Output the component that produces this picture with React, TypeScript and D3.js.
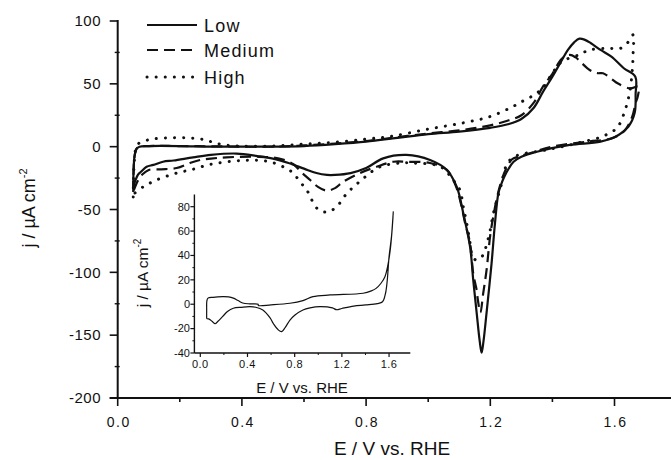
import React from 'react';
import * as d3 from 'd3';

const W = 671;
const H = 460;
const FONT = '"Liberation Sans", Arial, Helvetica, sans-serif';

// ---- Main chart data (E / V vs. RHE, j / µA cm^-2), full CV loops ----
const lowPotential = [
  0.05, 0.051, 0.054, 0.06, 0.07, 0.1, 0.2, 0.3, 0.4, 0.5, 0.6, 0.7, 0.8, 0.9, 1.0, 1.1, 1.2, 1.26, 1.3, 1.34,
  1.37, 1.4, 1.425, 1.45, 1.47, 1.487, 1.505, 1.523, 1.555, 1.59, 1.63, 1.667,
  1.668, 1.665, 1.645, 1.613, 1.555, 1.456, 1.35, 1.3, 1.275, 1.258, 1.245, 1.235, 1.226, 1.215, 1.204, 1.188,
  1.178, 1.172, 1.166, 1.156, 1.145, 1.135, 1.113, 1.092, 1.06, 1.006, 0.93, 0.855, 0.8, 0.75, 0.7, 0.674, 0.64,
  0.6, 0.55, 0.5, 0.45, 0.383, 0.3, 0.243, 0.18, 0.146, 0.115, 0.093, 0.075, 0.065, 0.05,
];
const lowCurrent = [
  -32, -20, -8, -2, 0, 0.5, 0.5, 0, 0, 0, 0.5, 2, 4, 7, 10, 12, 15, 18, 22, 31,
  43.8, 55.7, 66.5, 77, 83, 86, 85, 82.5, 77, 71.6, 62.4, 55.7,
  42, 27, 16, 9.3, 4, 1.4, -4, -8, -12, -18, -24, -30, -37, -61, -93, -132,
  -155, -164, -155, -132, -106, -80, -53, -32, -18.5, -10.6, -6.6, -9.3, -17, -21, -22.5, -22.5, -21,
  -17.5, -13, -9.5, -7.5, -5.5, -6.5, -8.5, -11, -12, -14.5, -16, -20, -22.5, -32,
];

const mediumPotential = [
  0.05, 0.051, 0.054, 0.06, 0.07, 0.1, 0.2, 0.3, 0.4, 0.5, 0.6, 0.7, 0.8, 0.9, 1.0, 1.1, 1.2, 1.26, 1.3, 1.34,
  1.37, 1.4, 1.43, 1.456, 1.475, 1.49, 1.52, 1.545, 1.563, 1.59, 1.61, 1.65, 1.677,
  1.675, 1.668, 1.657, 1.634, 1.595, 1.51, 1.4, 1.33, 1.29, 1.27, 1.25, 1.235, 1.222, 1.21, 1.2, 1.188, 1.177,
  1.168, 1.16, 1.156, 1.145, 1.135, 1.119, 1.105, 1.09, 1.06, 1.006, 0.93, 0.888, 0.834, 0.78, 0.726, 0.7, 0.673,
  0.645, 0.62, 0.59, 0.566, 0.52, 0.45, 0.35, 0.3, 0.265, 0.233, 0.19, 0.14, 0.1, 0.08, 0.065, 0.05,
];
const mediumCurrent = [
  -36, -22, -8, -2, 0, 0.5, 0.5, 0.3, 0, 0, 1, 2.5, 4.5, 7.5, 10.5, 13, 17, 21, 25, 35,
  48, 58, 70, 73, 71, 67.6, 61, 58.5, 58.4, 54, 50.4, 46.4, 47.7,
  40, 34.7, 23.9, 13.3, 6.9, 4, 0, -5, -8, -10, -18, -28, -40, -55, -70, -98, -117,
  -132, -122, -114, -101, -77, -61, -45, -32, -18.5, -13, -12, -12, -16, -21, -28, -33, -35,
  -32, -26.5, -20, -14, -9.5, -8, -8.5, -9.5, -10.6, -13, -17, -18, -18.5, -22, -27, -36,
];

const highPotential = [
  0.05, 0.051, 0.054, 0.058, 0.065, 0.08, 0.11, 0.16, 0.22, 0.27, 0.3, 0.34, 0.4, 0.5, 0.6, 0.7, 0.8, 0.887,
  1.0, 1.11, 1.2, 1.27, 1.31, 1.34, 1.37, 1.4, 1.43, 1.484, 1.52, 1.576, 1.62, 1.645, 1.66,
  1.66, 1.658, 1.65, 1.634, 1.608, 1.56, 1.5, 1.45, 1.38, 1.3, 1.27, 1.25, 1.237, 1.222, 1.21, 1.2, 1.188, 1.177,
  1.165, 1.152, 1.142, 1.135, 1.124, 1.113, 1.102, 1.08, 1.04, 0.952, 0.909, 0.845, 0.812, 0.786, 0.759, 0.732,
  0.71, 0.678, 0.646, 0.625, 0.609, 0.587, 0.565, 0.533, 0.48, 0.4, 0.3, 0.243, 0.19, 0.125, 0.082, 0.05,
];
const highCurrent = [
  -40, -24, -10, -2, 2, 4, 6, 7, 7, 6, 4, 1.5, 0.5, 0.5, 2, 3.5, 6, 8.5,
  14, 18.8, 24, 31.6, 37, 41, 47, 58.6, 67.6, 73, 77, 78.3, 78.3, 83.5, 89,
  74.5, 63.6, 45, 29, 15, 8, 4, 1, -2.6, -6, -9, -16, -29, -42, -53, -66, -78, -86,
  -89.5, -90, -87, -77, -61, -48, -34.5, -26.5, -16, -13, -13, -16, -21, -26.5, -32, -39,
  -46.4, -52, -50, -42.4, -34.5, -28, -21, -16, -11.5, -11, -14, -18, -21, -26.5, -32, -38,
];

// ---- Inset data ----
const insetPotential = [
  0.054, 0.054, 0.056, 0.065, 0.108, 0.19, 0.24, 0.28, 0.32, 0.36, 0.42, 0.49, 0.492, 0.6, 0.76, 0.87, 0.955,
  1.1, 1.38, 1.45, 1.49, 1.53, 1.565, 1.59, 1.61, 1.625, 1.636,
  1.62, 1.6, 1.585, 1.57, 1.545, 1.5, 1.4, 1.3, 1.2, 1.155, 1.12, 1.015, 0.93, 0.87, 0.8, 0.76, 0.72, 0.69,
  0.66, 0.62, 0.59, 0.53, 0.47, 0.42, 0.35, 0.28, 0.23, 0.19, 0.15, 0.125, 0.1, 0.07, 0.055,
];
const insetCurrent = [
  -12, -5, 3, 5, 5.7, 6.2, 6, 5, 3, 1, 0.3, 0, -1, -0.5, 0.8, 3, 6.2,
  7.6, 9, 11, 13, 17, 22.6, 32, 44.5, 60, 76,
  55, 39, 20, 9, 2, 0.5, -0.6, -1.5, -3.5, -4.5, -3, -2, -3, -4.7, -9, -13, -19, -22.5,
  -21, -16, -11, -4.7, -2.5, -2, -2.5, -3.3, -6, -10, -14, -16, -14, -12, -12,
];

// ---- Ticks & labels ----
const mainXTicks = [0, 0.4, 0.8, 1.2, 1.6];
const mainXMinor = [0.2, 0.6, 1.0, 1.4];
const mainYTicks = [-200, -150, -100, -50, 0, 50, 100];
const mainYMinor = [-175, -125, -75, -25, 25, 75];
const insetXTicks = [0, 0.4, 0.8, 1.2, 1.6];
const insetXMinor = [0.2, 0.6, 1.0, 1.4];
const insetYTicks = [-40, -20, 0, 20, 40, 60, 80];
const insetYMinor = [-30, -10, 10, 30, 50, 70];
const legendLabels = ['Low', 'Medium', 'High'];

const zip = (a: number[], b: number[]) => a.map((v, i) => [v, b[i]] as [number, number]);

const INK = '#111';

const styles = [
  { strokeWidth: 2.2, dash: undefined as string | undefined, cap: 'butt' },
  { strokeWidth: 2.2, dash: '11 6', cap: 'butt' },
  { strokeWidth: 3, dash: '0.1 9', cap: 'round' },
];

export default function App() {
  const x = d3.scaleLinear().domain([0, 1.78]).range([117.7, 670.4]);
  const y = d3.scaleLinear().domain([-200, 100]).range([398, 21]);
  const ix = d3.scaleLinear().domain([-0.05, 1.78]).range([194.4, 410.3]);
  const iy = d3.scaleLinear().domain([-40, 90]).range([353, 194.5]);

  const line = d3
    .line<[number, number]>()
    .x((d) => x(d[0]))
    .y((d) => y(d[1]))
    .curve(d3.curveCatmullRom.alpha(0.5));
  const iline = d3
    .line<[number, number]>()
    .x((d) => ix(d[0]))
    .y((d) => iy(d[1]))
    .curve(d3.curveCatmullRom.alpha(0.5));

  const series = [
    zip(lowPotential, lowCurrent),
    zip(mediumPotential, mediumCurrent),
    zip(highPotential, highCurrent),
  ];
  const fmt = d3.format('.1f');

  return (
    <svg
      width={W}
      height={H}
      style={{ position: 'absolute', left: 0, top: 0, background: '#fff' }}
      fontFamily={FONT}
    >
      <rect x={0} y={0} width={W} height={H} fill="#fff" />

      {/* Main axes */}
      <line x1={x(0)} x2={x(0)} y1={y(100) - 1} y2={y(-200)} stroke={INK} strokeWidth={2} />
      <line x1={x(0) - 8} x2={W} y1={y(-200)} y2={y(-200)} stroke={INK} strokeWidth={2} />
      {mainYTicks.map((t) => (
        <g key={'my' + t}>
          <line x1={x(0) - 8} x2={x(0)} y1={y(t)} y2={y(t)} stroke={INK} strokeWidth={1.6} />
          <text x={101} y={y(t)} dy="0.35em" textAnchor="end" fontSize={15} letterSpacing={0.5} fill={INK}>
            {t}
          </text>
        </g>
      ))}
      {mainYMinor.map((t) => (
        <line key={'mym' + t} x1={x(0) - 3} x2={x(0) + 2} y1={y(t)} y2={y(t)} stroke={INK} strokeWidth={1.4} />
      ))}
      {mainXTicks.map((t) => (
        <g key={'mx' + t}>
          <line x1={x(t)} x2={x(t)} y1={y(-200)} y2={y(-200) + 8} stroke={INK} strokeWidth={1.6} />
          <text x={x(t) + 1} y={427} textAnchor="middle" fontSize={14} letterSpacing={1.5} fill={INK}>
            {fmt(t)}
          </text>
        </g>
      ))}
      {mainXMinor.map((t) => (
        <line key={'mxm' + t} x1={x(t)} x2={x(t)} y1={y(-200)} y2={y(-200) + 4} stroke={INK} strokeWidth={1.6} />
      ))}

      {/* Axis titles */}
      <text x={392} y={455} textAnchor="middle" fontSize={19} fill={INK}>
        E / V vs. RHE
      </text>
      <text transform="translate(35,208) rotate(-90)" textAnchor="middle" fontSize={18} fill={INK}>
        j / µA cm
        <tspan dy={-8} fontSize={11}>
          -2
        </tspan>
      </text>

      {/* Curves */}
      {series.map((s, i) => (
        <path
          key={'s' + i}
          d={line(s) || ''}
          fill="none"
          stroke={INK}
          strokeWidth={styles[i].strokeWidth}
          strokeDasharray={styles[i].dash}
          strokeLinecap={styles[i].cap as any}
          strokeLinejoin="round"
        />
      ))}

      {/* Legend */}
      {legendLabels.map((lab, i) => {
        const ly = [25, 50, 77][i];
        return (
          <g key={'lg' + i}>
            <line
              x1={147}
              x2={197}
              y1={ly}
              y2={ly}
              stroke={INK}
              strokeWidth={styles[i].strokeWidth}
              strokeDasharray={styles[i].dash}
              strokeLinecap={styles[i].cap as any}
            />
            <text x={204} y={ly + 7} fontSize={18} letterSpacing={1.2} fill={INK}>
              {lab}
            </text>
          </g>
        );
      })}

      {/* Inset axes */}
      <line x1={ix(-0.05)} x2={ix(-0.05)} y1={iy(90)} y2={iy(-40)} stroke={INK} strokeWidth={1.4} />
      <line x1={ix(-0.05)} x2={ix(1.78)} y1={iy(-40)} y2={iy(-40)} stroke={INK} strokeWidth={1.4} />
      {insetYTicks.map((t) => (
        <g key={'iy' + t}>
          <line x1={ix(-0.05) - 4} x2={ix(-0.05)} y1={iy(t)} y2={iy(t)} stroke={INK} strokeWidth={1.2} />
          <text x={190} y={iy(t)} dy="0.35em" textAnchor="end" fontSize={11} fill={INK}>
            {t}
          </text>
        </g>
      ))}
      {insetYMinor.map((t) => (
        <line key={'iym' + t} x1={ix(-0.05) - 2} x2={ix(-0.05)} y1={iy(t)} y2={iy(t)} stroke={INK} strokeWidth={1} />
      ))}
      {insetXTicks.map((t) => (
        <g key={'ix' + t}>
          <line x1={ix(t)} x2={ix(t)} y1={iy(-40)} y2={iy(-40) + 4} stroke={INK} strokeWidth={1.2} />
          <text x={ix(t)} y={367.5} textAnchor="middle" fontSize={11} letterSpacing={0.5} fill={INK}>
            {fmt(t)}
          </text>
        </g>
      ))}
      {insetXMinor.map((t) => (
        <line key={'ixm' + t} x1={ix(t)} x2={ix(t)} y1={iy(-40)} y2={iy(-40) + 2} stroke={INK} strokeWidth={1} />
      ))}
      <text x={302} y={393} textAnchor="middle" fontSize={15} fill={INK}>
        E / V vs. RHE
      </text>
      <text transform="translate(148,273) rotate(-90)" textAnchor="middle" fontSize={15.5} fill={INK}>
        j / µA cm
        <tspan dy={-7} fontSize={10}>
          -2
        </tspan>
      </text>

      <path
        d={iline(zip(insetPotential, insetCurrent)) || ''}
        fill="none"
        stroke={INK}
        strokeWidth={1.2}
        strokeLinejoin="round"
      />
    </svg>
  );
}
